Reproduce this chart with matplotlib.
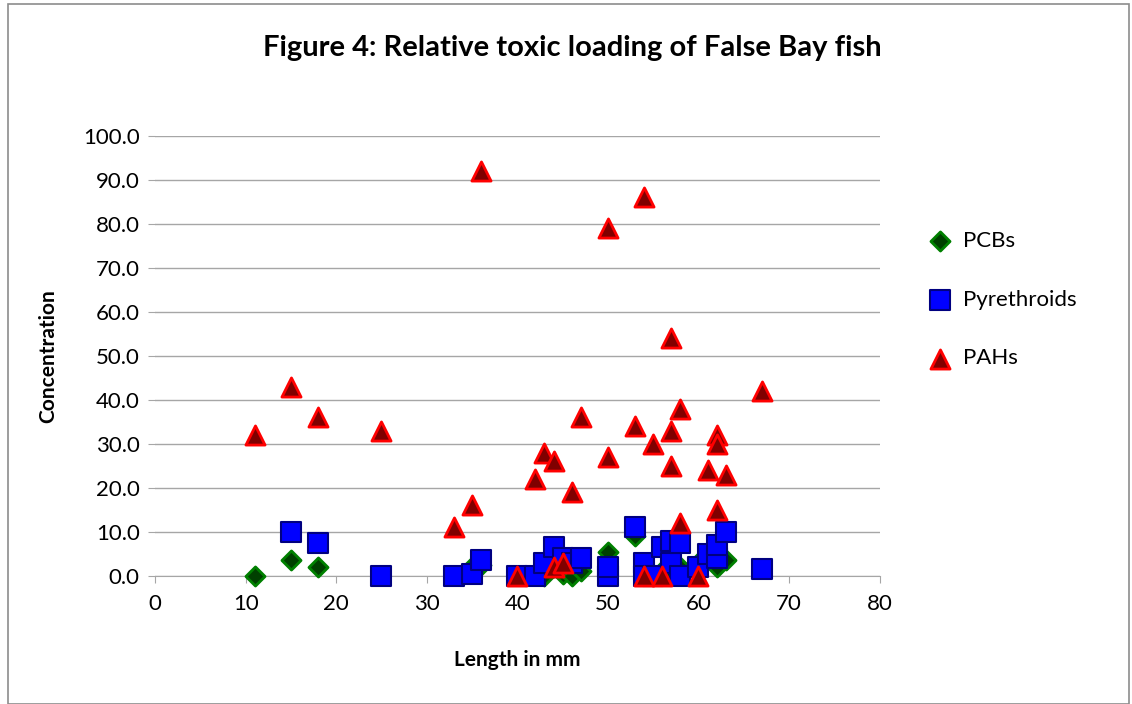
import matplotlib
matplotlib.use("Agg")
import matplotlib.pyplot as plt
from matplotlib.patches import Rectangle

# ===== DATA =====
pcb_len = [11, 15, 18, 35, 36, 43, 44, 45, 46, 47, 50, 53, 56, 57, 58, 60, 62, 63]
pcb_conc = [0.0, 3.5, 2.0, 2.0, 2.5, 0.0, 2.0, 0.5, 0.0, 1.0, 5.5, 9.0, 1.0, 1.0, 2.0, 3.0, 2.0, 3.5]

pyr_len = [15, 18, 25, 33, 35, 36, 40, 42, 43, 44, 45, 46, 47, 50, 50, 53, 54, 54,
           55, 56, 57, 57, 58, 58, 60, 61, 62, 62, 63, 67]
pyr_conc = [10.0, 7.5, 0.0, 0.0, 0.5, 3.5, 0.0, 0.0, 3.0, 6.5, 4.0, 3.0, 4.0, 0.0, 2.0,
            11.0, 3.0, 0.0, 0.0, 6.5, 8.0, 3.0, 7.5, 0.0, 2.0, 5.0, 4.0, 7.0, 10.0, 1.5]

pah_len = [11, 15, 18, 25, 33, 35, 36, 40, 42, 43, 44, 44, 45, 46, 47, 50, 50, 53, 54,
           54, 55, 56, 57, 57, 57, 58, 58, 60, 61, 62, 62, 62, 63, 67]
pah_conc = [32, 43, 36, 33, 11, 16, 92, 0, 22, 28, 26, 2, 3, 19, 36, 79, 27, 34, 86,
            0, 30, 0, 54, 33, 25, 38, 12, 0, 24, 32, 30, 15, 23, 42]

plt.rcParams['font.family'] = ['Lato', 'DejaVu Sans']

fig = plt.figure(figsize=(11.32, 7.04), dpi=100)
ax = fig.add_axes([0.137, 0.182, 0.640, 0.625])

# outer chart border
fig.patches.append(Rectangle((0.007, 0.0), 0.99, 0.995, transform=fig.transFigure,
                             fill=False, edgecolor='#8c8c8c', linewidth=1.2))

ax.scatter(pcb_len, pcb_conc, marker='D', s=95, c='#004000', edgecolors='#008000',
           linewidths=2, label='PCBs', zorder=3)
ax.scatter(pyr_len, pyr_conc, marker='s', s=190, c='#0000ff', edgecolors='#000080',
           linewidths=1.5, label='Pyrethroids', zorder=4)
ax.scatter(pah_len, pah_conc, marker='^', s=190, c='#800000', edgecolors='#ff0000',
           linewidths=2, label='PAHs', zorder=5)

ax.set_xlim(0, 80)
ax.set_ylim(0, 100)
ax.set_xticks(range(0, 81, 10))
ax.set_yticks(range(0, 101, 10))
ax.set_yticklabels([f"{v:.1f}" for v in range(0, 101, 10)])
ax.grid(axis='y', color='#a6a6a6', linewidth=1)
ax.set_axisbelow(True)
for side in ['top', 'right', 'left']:
    ax.spines[side].set_visible(False)
ax.spines['bottom'].set_color('#a6a6a6')
ax.tick_params(axis='x', colors='#a6a6a6', labelcolor='black', labelsize=16, length=5, pad=8)
ax.tick_params(axis='y', colors='#a6a6a6', labelcolor='black', labelsize=16, length=5, pad=6)
for coll in ax.collections:
    coll.set_clip_on(False)

ax.set_xlabel("Length in mm", fontsize=15, fontweight='bold', labelpad=26)
ax.set_ylabel("Concentration", fontsize=15, fontweight='bold', labelpad=18)
fig.suptitle("Figure 4: Relative toxic loading of False Bay fish", x=0.506, y=0.95,
             fontsize=21, fontweight='bold')

ax.legend(loc='upper left', bbox_to_anchor=(1.025, 0.83), frameon=False, fontsize=16,
          labelspacing=1.75, handletextpad=0.05, markerscale=1.0)

fig.savefig("out.png", dpi=100)
